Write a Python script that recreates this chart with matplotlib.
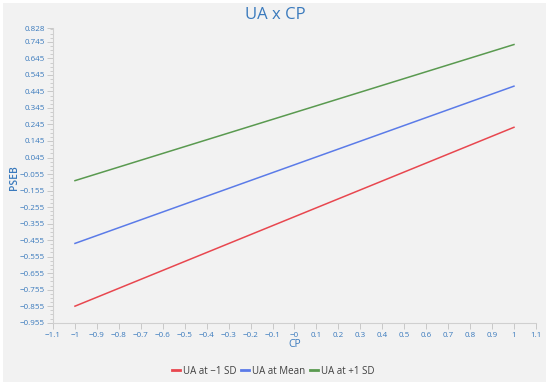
import numpy as np
import matplotlib
matplotlib.use("Agg")
import matplotlib.pyplot as plt
from matplotlib.patches import Rectangle
from matplotlib.lines import Line2D

# data
cp = [-1, 1]
ua_low = [-0.855, 0.228]
ua_mean = [-0.475, 0.477]
ua_high = [-0.095, 0.729]
labels = ["UA at \u22121 SD", "UA at Mean", "UA at +1 SD"]
colors = ["#e8474f", "#5b7be8", "#5a9a50"]

x_ticks = [round(-1.1 + 0.1 * i, 1) for i in range(23)]
y_ticks = [0.828] + [round(0.745 - 0.1 * i, 3) for i in range(18)]

txt = "#3a7abd"
plt.rcParams['font.family'] = ['Open Sans', 'DejaVu Sans']

fig = plt.figure(figsize=(5.5, 3.86), dpi=100, facecolor="white")
fig.patches.append(Rectangle((3 / 550, 4 / 386), 543 / 550, 379 / 386,
                             transform=fig.transFigure, facecolor="#f2f2f2",
                             edgecolor="none", zorder=-10))
ax = fig.add_axes([0.0964, 0.164, 0.878, 0.763])
ax.set_facecolor("none")

for ys, lab, c in zip([ua_low, ua_mean, ua_high], labels, colors):
    ax.plot(cp, ys, color=c, lw=1.1, label=lab)

ax.set_xlim(-1.1, 1.1)
ax.set_ylim(-0.955, 0.828)

ax.set_xticks(x_ticks)
xl = []
for v in x_ticks:
    s = ("%g" % v)
    if abs(v) < 1e-9:
        s = "\u22120"
    xl.append(s.replace("-", "\u2212"))
ax.set_xticklabels(xl)
ax.set_yticks(y_ticks)
ax.set_yticklabels([("%.3f" % v).replace("-", "\u2212") for v in y_ticks])
minor = [round(0.745 - 0.025 * i, 3) for i in range(-3, 69) if i % 4 != 0]
minor = [m for m in minor if -0.955 < m < 0.828]
ax.set_yticks(minor, minor=True)

for s in ["top", "right"]:
    ax.spines[s].set_visible(False)
for s in ["left", "bottom"]:
    ax.spines[s].set_color("#d0d0d0")
    ax.spines[s].set_linewidth(0.8)
ax.tick_params(axis="both", which="major", colors="#c8c8c8", labelcolor=txt,
               labelsize=5.8, length=4, width=0.7, pad=2)
ax.tick_params(axis="x", which="major", pad=2.5)
ax.tick_params(axis="y", which="minor", colors="#c8c8c8", length=2.5, width=0.6)

ax.set_xlabel("CP", color=txt, fontsize=7.5)
ax.xaxis.set_label_coords(0.5, -0.073, transform=ax.transAxes)
ax.xaxis.label.set_va("center")
ax.set_ylabel("PSEB", color=txt, fontsize=7.5, fontweight="semibold")
ax.yaxis.set_label_coords(-0.079, 0.493, transform=ax.transAxes)
ax.yaxis.label.set_va("center")
fig.text(0.5, 1 - 15 / 386, "UA x CP", color=txt, fontsize=12,
         ha="center", va="center")

handles = [Line2D([], [], color=c, lw=2) for c in colors]
leg = fig.legend(handles, labels, loc="center", bbox_to_anchor=(0.497, 1 - 371 / 386),
                 ncol=3, frameon=False, fontsize=7, handlelength=0.8,
                 handletextpad=0.3, columnspacing=0.5)
for t in leg.get_texts():
    t.set_color("#404040")

fig.savefig("out.png", dpi=100, facecolor="white")
